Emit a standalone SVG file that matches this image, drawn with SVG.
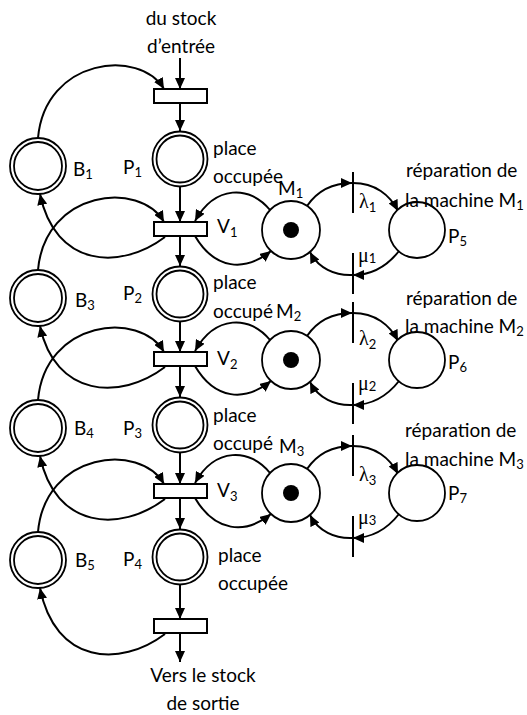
<svg xmlns="http://www.w3.org/2000/svg" width="527" height="715" viewBox="0 0 527 715">
  <defs>
    <marker id="ah" markerUnits="userSpaceOnUse" markerWidth="11" markerHeight="10" refX="11" refY="5" orient="auto">
      <path d="M0,0 L11,5 L0,10 z" fill="#000"/>
    </marker>
    <style>
      .ln { fill: none; stroke: #000; stroke-width: 2; }
      .arr { marker-end: url(#ah); }
      .pl { fill: #fff; stroke: #000; stroke-width: 1.8; }
      .pi { fill: none; stroke: #000; stroke-width: 1.8; }
      .tr { fill: #fff; stroke: #000; stroke-width: 2; }
      .bar { stroke: #000; stroke-width: 2; }
      .tok { fill: #000; }
      text { font-family: Lato, "Open Sans", sans-serif; font-size: 19px; fill: #000; }
      .sub { font-size: 13px; }
      .gk { font-family: "Liberation Serif", "DejaVu Serif", serif; font-size: 20px; }
      .mid { text-anchor: middle; }
    </style>
  </defs>

  <rect width="527" height="715" fill="#fff"/>

  <!-- connectors -->
  <g id="connectors">
    <!-- main flow down the line -->
    <line class="ln arr" x1="180" y1="58" x2="180" y2="89"/>
    <line class="ln arr" x1="180" y1="103" x2="180" y2="131"/>
    <line class="ln arr" x1="180" y1="187" x2="180" y2="222"/>
    <line class="ln arr" x1="180" y1="236" x2="180" y2="266"/>
    <line class="ln arr" x1="180" y1="322" x2="180" y2="352"/>
    <line class="ln arr" x1="180" y1="366" x2="180" y2="397"/>
    <line class="ln arr" x1="180" y1="453" x2="180" y2="484"/>
    <line class="ln arr" x1="180" y1="498" x2="180" y2="529"/>
    <line class="ln arr" x1="180" y1="585" x2="180" y2="619"/>
    <line class="ln arr" x1="180" y1="633" x2="180" y2="662"/>

    <!-- buffers: free slots back to the upstream transition -->
    <path class="ln arr" d="M38,138 C45,58 140,48 164,89"/>
    <path class="ln arr" d="M38,270 C45,190 140,180 164,222"/>
    <path class="ln arr" d="M38,400 C45,320 140,310 164,352"/>
    <path class="ln arr" d="M38,532 C45,452 140,442 164,484"/>
    <path class="ln arr" d="M165,237 C120,271 55,267 40,194"/>
    <path class="ln arr" d="M165,367 C120,401 55,397 40,326"/>
    <path class="ln arr" d="M165,499 C120,533 55,529 40,456"/>
    <path class="ln arr" d="M165,634 C120,668 55,664 40,588"/>

    <!-- machine 1 -->
    <path class="ln arr" d="M270,210 C250,185 215,185 195,221"/>
    <path class="ln arr" d="M195,236 C215,270 245,272 271,251"/>
    <path class="ln arr" d="M307,206 C318,190 332,183 352,183"/>
    <path class="ln arr" d="M353,183 C375,183 390,195 398,211"/>
    <path class="ln arr" d="M399,251 C388,265 372,275 353,275"/>
    <path class="ln arr" d="M353,275 C335,276 318,268 310,252"/>

    <!-- machine 2 -->
    <path class="ln arr" d="M270,340 C250,315 215,315 195,351"/>
    <path class="ln arr" d="M195,366 C215,400 245,402 271,381"/>
    <path class="ln arr" d="M307,336 C318,320 332,313 352,313"/>
    <path class="ln arr" d="M353,313 C375,313 390,325 398,341"/>
    <path class="ln arr" d="M399,381 C388,395 372,405 353,405"/>
    <path class="ln arr" d="M353,405 C335,406 318,398 310,382"/>

    <!-- machine 3 -->
    <path class="ln arr" d="M270,473 C250,448 215,447 195,483"/>
    <path class="ln arr" d="M195,498 C215,532 245,535 271,514"/>
    <path class="ln arr" d="M307,469 C318,453 332,446 352,446"/>
    <path class="ln arr" d="M353,446 C375,446 390,458 398,474"/>
    <path class="ln arr" d="M399,514 C388,528 372,538 353,538"/>
    <path class="ln arr" d="M353,538 C335,539 318,531 310,515"/>
  </g>

  <!-- transitions -->
  <g id="T0"><rect class="tr" x="154" y="89" width="53" height="14"/></g>
  <g id="V1"><rect class="tr" x="154" y="222" width="53" height="14"/><text x="217" y="233">V<tspan class="sub" dy="4">1</tspan></text></g>
  <g id="V2"><rect class="tr" x="154" y="352" width="53" height="14"/><text x="217" y="365">V<tspan class="sub" dy="4">2</tspan></text></g>
  <g id="V3"><rect class="tr" x="154" y="484" width="53" height="14"/><text x="217" y="497">V<tspan class="sub" dy="4">3</tspan></text></g>
  <g id="T4"><rect class="tr" x="154" y="619" width="53" height="14"/></g>

  <g id="lambda1"><line class="bar" x1="353" y1="172" x2="353" y2="213"/><text class="gk" x="359" y="208">λ<tspan class="sub" font-family="Lato, sans-serif" dy="4">1</tspan></text></g>
  <g id="mu1"><line class="bar" x1="353" y1="253" x2="353" y2="294"/><text class="gk" x="358" y="262">μ<tspan class="sub" font-family="Lato, sans-serif" dy="1">1</tspan></text></g>
  <g id="lambda2"><line class="bar" x1="353" y1="302" x2="353" y2="343"/><text class="gk" x="359" y="345">λ<tspan class="sub" font-family="Lato, sans-serif" dy="4">2</tspan></text></g>
  <g id="mu2"><line class="bar" x1="353" y1="383" x2="353" y2="424"/><text class="gk" x="358" y="390">μ<tspan class="sub" font-family="Lato, sans-serif" dy="1">2</tspan></text></g>
  <g id="lambda3"><line class="bar" x1="353" y1="435" x2="353" y2="476"/><text class="gk" x="359" y="481">λ<tspan class="sub" font-family="Lato, sans-serif" dy="4">3</tspan></text></g>
  <g id="mu3"><line class="bar" x1="353" y1="516" x2="353" y2="557"/><text class="gk" x="358" y="524">μ<tspan class="sub" font-family="Lato, sans-serif" dy="1">3</tspan></text></g>

  <!-- buffer places -->
  <g id="B1"><circle class="pl" cx="38" cy="166" r="28"/><circle class="pi" cx="38" cy="166" r="24"/><text x="73" y="176">B<tspan class="sub" dy="3">1</tspan></text></g>
  <g id="B3"><circle class="pl" cx="38" cy="298" r="28"/><circle class="pi" cx="38" cy="298" r="24"/><text x="75" y="307">B<tspan class="sub" dy="3">3</tspan></text></g>
  <g id="B4"><circle class="pl" cx="38" cy="428" r="28"/><circle class="pi" cx="38" cy="428" r="24"/><text x="74" y="435">B<tspan class="sub" dy="3">4</tspan></text></g>
  <g id="B5"><circle class="pl" cx="38" cy="560" r="28"/><circle class="pi" cx="38" cy="560" r="24"/><text x="75" y="567">B<tspan class="sub" dy="3">5</tspan></text></g>

  <!-- occupied places -->
  <g id="P1"><circle class="pl" cx="180" cy="159" r="27.5"/><circle class="pi" cx="180" cy="159" r="23.5"/><text x="123" y="174">P<tspan class="sub" dy="3">1</tspan></text><text x="213" y="155">place</text><text x="213" y="183">occupée</text></g>
  <g id="P2"><circle class="pl" cx="180" cy="294" r="27.5"/><circle class="pi" cx="180" cy="294" r="23.5"/><text x="123" y="300">P<tspan class="sub" dy="3">2</tspan></text><text x="213" y="289">place</text><text x="213" y="318">occupé</text></g>
  <g id="P3"><circle class="pl" cx="180" cy="425" r="27.5"/><circle class="pi" cx="180" cy="425" r="23.5"/><text x="123" y="435">P<tspan class="sub" dy="3">3</tspan></text><text x="213" y="422">place</text><text x="213" y="450">occupé</text></g>
  <g id="P4"><circle class="pl" cx="180" cy="557" r="27.5"/><circle class="pi" cx="180" cy="557" r="23.5"/><text x="123" y="566">P<tspan class="sub" dy="3">4</tspan></text><text x="218" y="562">place</text><text x="218" y="590">occupée</text></g>

  <!-- machine places -->
  <g id="M1"><circle class="pl" cx="291" cy="230" r="29"/><circle class="tok" cx="291" cy="230" r="8"/><text x="278" y="195">M<tspan class="sub" dy="3">1</tspan></text></g>
  <g id="M2"><circle class="pl" cx="291" cy="360" r="29"/><circle class="tok" cx="291" cy="360" r="8"/><text x="276" y="318">M<tspan class="sub" dy="3">2</tspan></text></g>
  <g id="M3"><circle class="pl" cx="291" cy="493" r="29"/><circle class="tok" cx="291" cy="493" r="8"/><text x="279" y="453">M<tspan class="sub" dy="3">3</tspan></text></g>

  <!-- repair places -->
  <g id="P5"><circle class="pl" cx="417" cy="230" r="28"/><text x="448" y="243">P<tspan class="sub" dy="3">5</tspan></text><text x="406" y="177">réparation de</text><text x="405" y="207">la machine M<tspan class="sub" dy="3">1</tspan></text></g>
  <g id="P6"><circle class="pl" cx="417" cy="360" r="28"/><text x="448" y="369">P<tspan class="sub" dy="3">6</tspan></text><text x="406" y="305">réparation de</text><text x="405" y="333">la machine M<tspan class="sub" dy="3">2</tspan></text></g>
  <g id="P7"><circle class="pl" cx="417" cy="493" r="28"/><text x="448" y="500">P<tspan class="sub" dy="3">7</tspan></text><text x="405" y="437">réparation de</text><text x="405" y="466">la machine M<tspan class="sub" dy="3">3</tspan></text></g>

  <!-- stock labels -->
  <g id="stock-in"><text class="mid" x="181" y="25">du stock</text><text class="mid" x="181" y="53">d’entrée</text></g>
  <g id="stock-out"><text class="mid" x="203" y="682">Vers le stock</text><text class="mid" x="203" y="710">de sortie</text></g>
</svg>
